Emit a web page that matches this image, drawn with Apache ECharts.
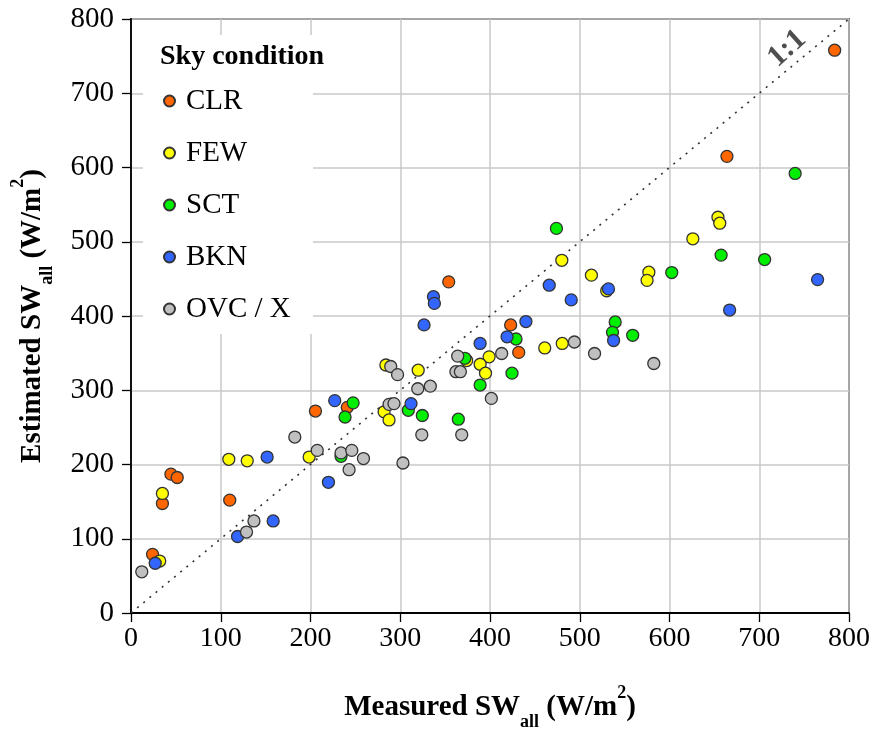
<!DOCTYPE html>
<html>
<head>
<meta charset="utf-8">
<title>Estimated vs measured SWall by sky condition</title>
<script src="https://cdn.jsdelivr.net/npm/echarts@6/dist/echarts.min.js"></script>
<style>
  html, body { margin: 0; padding: 0; background: #fff; }
  #chart { width: 877px; height: 734px; }
</style>
</head>
<body>
<div id="chart"></div>
<script>
// Measured vs estimated all-sky shortwave (W/m2), grouped by sky condition: [measured, estimated]
const clr = [
  [784, 758], [664, 615], [423, 388], [432, 351], [354, 446], [205.5, 272],
  [241, 277], [44.5, 187], [51.5, 182.5], [35, 147.5], [110, 152], [24, 79]
];
const few = [
  [654, 533], [656, 525], [626, 504], [480, 475], [513, 455], [577, 459],
  [575, 448], [530, 434], [461, 357], [480.5, 363], [399, 345], [389, 335],
  [395, 323], [374, 340], [284, 334], [320, 327], [282, 271], [287.5, 260],
  [198.5, 210], [109, 207], [129.5, 205], [35, 161], [32, 70]
];
const sct = [
  [740, 592], [474, 518], [657.5, 482], [706, 476], [602.5, 458.5], [539.5, 392],
  [536.5, 378], [559, 374], [429, 369], [424.5, 323], [389, 307], [372, 343],
  [309, 273], [324.6, 266], [364.7, 261], [247.5, 283], [238.5, 264], [234, 211]
];
const bkn = [
  [765, 449], [466, 441.5], [532, 436.5], [490.5, 421.7], [667, 408], [440, 392.5],
  [537.7, 367], [419, 372], [389, 363], [326.5, 388], [337, 426], [338, 417],
  [312, 282], [227, 286], [220, 176], [151.7, 210], [158.4, 124], [118.7, 103],
  [27, 67]
];
const ovc = [
  [494, 365], [413, 349.5], [516.5, 349.5], [582.5, 336], [401.5, 289], [364, 346],
  [362, 325], [367, 325], [289.4, 332], [297, 321], [319.5, 302], [333.5, 305.5],
  [287.5, 281], [293, 282], [324, 240], [368.5, 240], [303, 202], [182.5, 237],
  [207.5, 219], [234, 215.6], [246, 219], [259, 208], [243, 193], [137, 124],
  [128.7, 109], [12, 55.5]
];

const skyNames = ['CLR', 'FEW', 'SCT', 'BKN', 'OVC / X'];
const skyColors = ['#ff6600', '#ffff00', '#00ee00', '#3366ff', '#c0c0c0'];
const skyData = [clr, few, sct, bkn, ovc];

// 1:1 reference line and where its tag sits (data units)
const oneToOne = [[0, 0], [800, 800]];
const oneToOneText = '1:1';
const oneToOneTagAt = [731, 760];

const axisMin = 0, axisMax = 800, axisStep = 100;

const serif = '"Liberation Serif", "Times New Roman", serif';

function titleRich(size) {
  return {
    b: { fontFamily: serif, fontWeight: 'bold', fontSize: size, color: '#000' },
    s: { fontFamily: serif, fontWeight: 'bold', fontSize: Math.round(size * 0.62), color: '#000',
         verticalAlign: 'bottom', padding: [0, 0, -Math.round(size * 0.3), 0] },
    p: { fontFamily: serif, fontWeight: 'bold', fontSize: Math.round(size * 0.62), color: '#000',
         verticalAlign: 'top', padding: [-Math.round(size * 0.32), 0, 0, 0] }
  };
}

const chart = echarts.init(document.getElementById('chart'), null, { renderer: 'canvas' });

const scatterSeries = skyNames.map((name, i) => ({
  name: name,
  type: 'scatter',
  data: skyData[i],
  symbol: 'circle',
  symbolSize: 12,
  z: 3,
  itemStyle: { color: skyColors[i], borderColor: '#333', borderWidth: 1.3, opacity: 1 },
  emphasis: { disabled: true }
}));

const option = {
  animation: false,
  backgroundColor: '#fff',
  grid: {
    left: 131, right: 28, top: 19, bottom: 121,
    containLabel: false, outerBoundsMode: 'none',
    show: true, borderColor: '#000', borderWidth: 1.5, backgroundColor: 'transparent'
  },
  xAxis: {
    type: 'value', min: axisMin, max: axisMax, interval: axisStep,
    name: '{b|Measured SW}{s|all}{b| (W/m}{p|2}{b|)}',
    nameLocation: 'middle', nameGap: 80,
    nameTextStyle: { rich: titleRich(29) },
    axisLine: { show: true, onZero: false, lineStyle: { color: '#000', width: 1.8 } },
    axisTick: { show: true, inside: false, length: 9, lineStyle: { color: '#000', width: 1.3 } },
    axisLabel: { margin: 12, fontFamily: serif, fontSize: 28, color: '#000' },
    splitLine: { show: true, lineStyle: { color: '#c8c8c8', width: 1.5 } }
  },
  yAxis: {
    type: 'value', min: axisMin, max: axisMax, interval: axisStep,
    name: '{b|Estimated SW}{s|all}{b| (W/m}{p|2}{b|)}',
    nameLocation: 'middle', nameGap: 84, nameRotate: 90,
    nameTextStyle: { rich: titleRich(29) },
    axisLine: { show: true, onZero: false, lineStyle: { color: '#000', width: 1.8 } },
    axisTick: { show: true, inside: false, length: 9, lineStyle: { color: '#000', width: 1.3 } },
    axisLabel: { margin: 17, fontFamily: serif, fontSize: 29, color: '#000' },
    splitLine: { show: true, lineStyle: { color: '#c8c8c8', width: 1.5 } }
  },
  legend: {
    data: skyNames,
    orient: 'vertical',
    left: 163, top: 86,
    padding: 0,
    itemGap: 22,
    itemWidth: 11, itemHeight: 11,
    icon: 'circle',
    selectedMode: false,
    textStyle: { fontFamily: serif, fontSize: 29, color: '#000', lineHeight: 30, padding: [0, 0, 0, 6] }
  },
  graphic: [
    { type: 'rect', z: 1, shape: { x: 143, y: 35, width: 170, height: 299 }, style: { fill: '#fff' }, silent: true },
    { type: 'text', z: 5, x: 160, y: 57,
      style: { text: 'Sky condition', fontFamily: serif, fontWeight: 'bold', fontSize: 28,
               fill: '#000', textVerticalAlign: 'middle', verticalAlign: 'middle' }, silent: true }
  ],
  series: [
    {
      name: 'oneToOne',
      type: 'line',
      data: oneToOne,
      symbol: 'none',
      z: 2,
      silent: true,
      lineStyle: { color: '#333', width: 1.6, type: [2, 6] }
    },
    {
      name: 'oneToOneTag',
      type: 'scatter',
      data: [oneToOneTagAt],
      symbolSize: 1,
      z: 4,
      silent: true,
      itemStyle: { color: 'rgba(0,0,0,0)' },
      label: {
        show: true, formatter: oneToOneText, position: 'inside',
        rotate: 42, fontFamily: serif, fontWeight: 'bold', fontSize: 30, color: '#222'
      }
    }
  ].concat(scatterSeries)
};

chart.setOption(option);
</script>
</body>
</html>
